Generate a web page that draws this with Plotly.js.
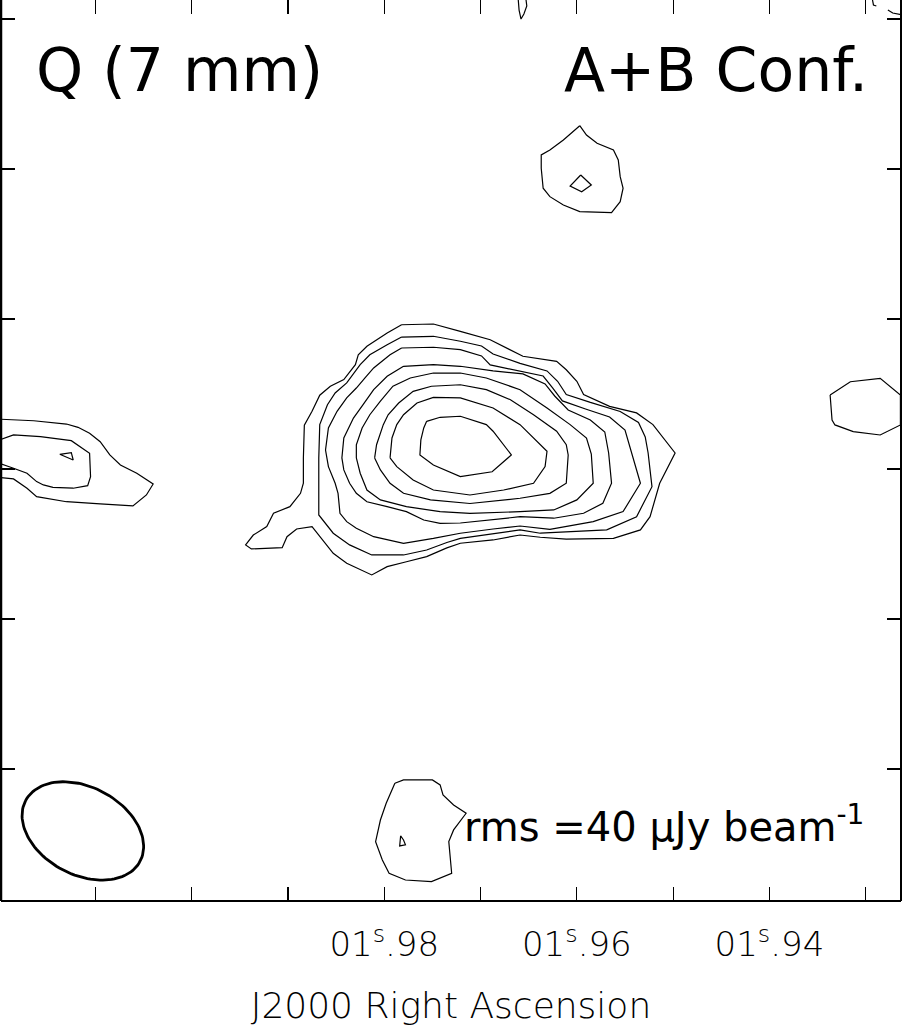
<!DOCTYPE html>
<html>
<head>
<meta charset="utf-8">
<script src="https://cdn.plot.ly/plotly-3.0.1.min.js"></script>
<style>
  html, body { margin: 0; padding: 0; background: #fff; }
  #map { width: 903px; height: 1026px; }
</style>
</head>
<body>
<div id="map"></div>
<script>
// x: RA seconds past 01s.9, in ms of time (80 = 01s.98); y: Dec offset in mas
var raLabelVals = [80, 60, 40];
var raLabelText = ['01<sup>s</sup>.98', '01<sup>s</sup>.96', '01<sup>s</sup>.94'];
var raTickVals = [110, 100, 90, 80, 70, 60, 50, 40, 30];
var decTickVals = [0, 100, 200, 300, 400, 500];

// main source, contours from outermost (1) to peak (8)
var c1x = [78.2,74.9,72.1,69.0,65.6,62.1,61.1,60.0,59.3,56.6,53.8,52.1,49.8,51.4,52.4,53.4,56.2,61.1,63.8,65.9,68.7,72.1,73.5,75.6,77.7,79.7,81.3,83.9,85.3,86.7,87.5,89.1,90.1,90.6,93.8,94.4,93.6,92.2,91.5,89.8,88.7,88.4,88.4,88.3,87.5,86.7,85.6,84.2,83.0,82.7,81.8,79.7,78.2];
var c1y = [296.2,296.7,291.8,286.2,275.2,271.8,266.2,258.5,249.6,241.8,237.4,229.6,210.7,190.5,168.2,159.4,153.8,153.2,154.5,156.0,152.7,150.5,147.4,141.6,138.2,134.9,129.4,137.2,143.8,154.9,161.6,160.0,154.9,147.6,146.7,149.4,156.0,161.6,170.5,174.9,183.8,190.5,207.4,229.2,238.5,249.2,255.2,259.6,269.6,276.2,281.8,290.7,296.2];
var c2x = [78.2,74.9,72.1,69.9,68.7,65.9,63.1,62.0,61.1,58.6,55.5,53.6,52.9,52.6,52.2,53.8,56.9,61.1,63.8,65.9,68.7,72.1,73.5,75.6,78.0,81.3,83.6,85.3,86.8,86.8,86.8,86.7,85.9,85.1,83.9,82.5,81.5,79.7,78.2];
var c2y = [288.0,288.5,285.2,282.0,276.7,270.4,265.4,258.5,249.7,244.4,238.4,231.0,221.4,210.7,188.2,168.2,159.4,158.2,157.2,159.4,156.7,153.8,151.0,146.0,142.7,142.7,149.4,157.2,169.4,190.5,207.4,229.6,242.9,250.7,257.4,269.6,276.2,282.9,288.0];
var c3x = [78.2,74.9,72.1,69.9,69.0,66.4,63.5,62.5,61.5,59.1,56.6,55.0,54.3,53.4,55.2,58.3,62.8,65.9,68.7,72.1,74.9,78.0,81.1,82.9,83.9,84.6,84.8,85.1,85.8,86.1,85.8,84.9,83.9,82.9,82.0,81.1,79.4,78.2];
var c3y = [280.7,281.2,279.6,275.4,269.4,266.0,262.0,254.0,245.4,240.0,234.7,226.0,210.7,190.5,171.6,164.9,159.8,162.0,160.0,157.2,153.8,150.5,154.9,160.5,164.9,170.5,183.8,190.5,201.6,212.7,227.4,238.5,247.4,254.0,260.7,267.4,276.2,280.7];
var c4x = [78.0,74.9,72.1,68.7,65.6,63.3,62.3,60.9,58.6,57.1,56.7,56.4,57.3,59.3,62.4,65.9,72.1,74.2,75.9,77.7,79.7,81.8,82.9,83.6,84.2,84.4,84.2,83.2,82.2,81.1,79.7,78.0];
var c4y = [268.5,269.6,268.5,265.4,263.4,256.7,248.7,239.4,232.7,224.7,210.7,190.5,177.2,170.5,167.2,168.2,164.0,163.8,166.0,171.6,174.9,178.2,183.8,190.5,199.4,207.4,220.7,234.0,242.9,252.9,261.8,268.5];
var c5x = [82.9,82.9,82.3,81.5,80.4,79.1,77.3,74.9,72.1,69.4,65.9,63.1,60.7,59.0,58.5,58.3,60.0,62.4,65.9,71.1,74.2,77.7,80.4,81.8,82.5,82.9];
var c5y = [207.4,216.2,227.4,236.2,245.2,255.2,260.7,264.0,264.0,260.7,252.9,240.7,229.6,220.7,210.0,190.5,179.4,172.7,171.6,170.4,171.6,174.9,179.4,186.0,197.2,207.4];
var c6x = [81.0,80.8,80.1,79.6,78.5,77.0,75.1,72.1,69.4,66.9,64.5,62.1,61.1,60.9,61.1,62.8,65.9,71.1,75.2,78.0,79.4,80.4,81.0];
var c6y = [207.4,216.2,229.6,236.2,244.0,251.8,255.2,256.2,252.9,246.2,236.2,225.2,216.2,209.4,190.5,183.8,180.5,177.0,179.4,183.8,190.5,199.4,207.4];
var c7x = [79.4,79.2,78.7,78.0,76.6,74.9,72.1,68.7,65.9,63.1,63.3,64.5,67.6,71.1,74.9,77.0,78.7,79.4];
var c7y = [207.4,220.7,229.6,236.2,244.0,247.8,247.4,240.7,229.6,211.8,201.6,190.5,186.0,182.7,186.0,192.7,201.6,207.4];
var c8x = [75.6,74.2,72.1,69.4,68.7,67.6,66.8,68.8,72.1,74.9,76.3,76.2,75.9,75.6];
var c8y = [231.8,234.5,235.2,229.6,225.2,216.2,209.4,198.2,195.0,202.7,209.4,219.4,227.4,231.8];

// weaker features around the map
var leftOuterX = [120.5,116.4,113.0,111.8,110.6,109.5,108.5,107.4,105.7,104.0,104.7,106.1,109.5,113.0,116.1,117.1,118.5,120.5];
var leftOuterY = [233.4,232.2,230.0,227.8,223.8,218.2,209.4,202.7,197.2,190.0,182.7,175.4,176.7,178.2,181.6,187.2,193.4,194.7];
var leftInnerX = [120.5,118.5,115.7,112.5,110.6,110.5,110.8,112.3,114.4,115.4,116.1,117.1,118.5,120.5];
var leftInnerY = [218.2,222.7,221.6,218.9,210.5,194.9,188.9,187.2,187.8,189.4,191.6,197.2,200.5,204.9];
var leftPeakX = [113.7,112.5,112.3,113.7];
var leftPeakY = [209.8,210.9,206.0,209.8];
var northOuterX = [59.7,59.0,57.9,56.2,55.7,55.5,55.2,55.5,56.4,59.7,61.4,62.8,63.5,63.7,63.7,62.8,61.4,59.7];
var northOuterY = [428.9,422.7,417.2,412.7,406.0,394.9,387.2,378.2,370.9,371.6,376.0,381.6,387.2,400.5,409.4,412.7,419.4,428.9];
var northInnerX = [59.6,58.5,59.5,60.7,59.6];
var northInnerY = [396.0,389.4,384.9,388.7,396.0];
var eastX = [33.7,31.6,28.5,26.4,26.4,28.5,31.3,33.2,33.5,33.6,33.7];
var eastY = [249.4,258.2,260.5,249.4,229.4,222.7,224.9,229.4,232.7,241.6,249.4];
var southOuterX = [78.9,78.0,75.0,74.2,73.9,72.8,71.5,72.8,73.3,73.2,73.0,75.1,77.8,79.5,80.2,80.9,80.4,79.8,78.9];
var southOuterY = [-9.5,-7.3,-7.3,-10.6,-17.3,-24.0,-29.5,-40.6,-48.4,-56.2,-69.5,-75.1,-74.0,-69.5,-60.6,-48.4,-34.0,-22.8,-9.5];
var southInnerX = [78.3,78.0,77.8,78.4,78.3];
var southInnerY = [-44.6,-47.3,-50.6,-51.3,-44.6];
var edgeX = [66.1,65.3,65.2,65.5,65.8,66.0,66.1, null, 29.3,29.2,28.9, null, 27.7,27.2,26.2];
var edgeY = [514.0,514.0,508.7,503.4,500.0,506.0,514.0, null, 512.7,509.4,508.7, null, 506.0,504.0,502.7];

// restoring beam (mas, deg) and its position
var beamCentre = [111.3, -41.3];
var beamMaj = 86.4, beamMin = 58.4, beamPA = 62;
var COSDEC = 0.428;

var contours = [
  [c1x, c1y], [c2x, c2y], [c3x, c3y], [c4x, c4y], [c5x, c5y], [c6x, c6y], [c7x, c7y], [c8x, c8y],
  [leftOuterX, leftOuterY], [leftInnerX, leftInnerY], [leftPeakX, leftPeakY],
  [northOuterX, northOuterY], [northInnerX, northInnerY], [eastX, eastY],
  [southOuterX, southOuterY], [southInnerX, southInnerY], [edgeX, edgeY]
];

var data = contours.map(function (c) {
  return {
    x: c[0], y: c[1], mode: 'lines', type: 'scatter',
    line: {color: 'black', width: 1.2},
    hoverinfo: 'skip', showlegend: false
  };
});

// beam ellipse
var bx = [], by = [];
var pa = beamPA * Math.PI / 180, a = beamMaj / 2, b = beamMin / 2;
for (var i = 0; i <= 120; i++) {
  var t = 2 * Math.PI * i / 120;
  var east = a * Math.cos(t) * Math.sin(pa) + b * Math.sin(t) * Math.cos(pa);
  var north = a * Math.cos(t) * Math.cos(pa) - b * Math.sin(t) * Math.sin(pa);
  bx.push(beamCentre[0] + east / (15 * COSDEC));
  by.push(beamCentre[1] + north);
}
data.push({x: bx, y: by, mode: 'lines', type: 'scatter',
  line: {color: 'black', width: 2.8}, hoverinfo: 'skip', showlegend: false});

var font = 'DejaVu Sans, sans-serif';

var layout = {
  width: 903,
  height: 1026,
  margin: {l: 1, r: 2, t: 0, b: 125, pad: 0},
  paper_bgcolor: 'white',
  plot_bgcolor: 'white',
  showlegend: false,
  xaxis: {
    range: [119.8, 26.34],
    tickmode: 'array',
    tickvals: raLabelVals,
    ticktext: raLabelText,
    ticks: 'inside',
    ticklen: 14,
    tickwidth: 1.2,
    tickcolor: 'black',
    minor: {
      tickmode: 'array',
      tickvals: raTickVals,
      ticks: 'inside',
      ticklen: 14,
      tickwidth: 1.2,
      tickcolor: 'black',
      showgrid: false
    },
    mirror: 'ticks',
    showline: false,
    showgrid: false,
    zeroline: false,
    ticklabelstandoff: 20,
    tickfont: {family: font, size: 34, color: 'black', weight: 200},
    title: {text: 'J2000 Right Ascension', standoff: 30,
      font: {family: font, size: 36, color: 'black', weight: 200}}
  },
  yaxis: {
    range: [-88.0, 512.7],
    tickmode: 'array',
    tickvals: decTickVals,
    ticks: 'inside',
    ticklen: 14,
    tickwidth: 1.2,
    tickcolor: 'black',
    mirror: 'ticks',
    showline: false,
    showgrid: false,
    zeroline: false,
    showticklabels: false
  },
  shapes: [
    {type: 'line', xref: 'paper', yref: 'paper', x0: 0, x1: 0, y0: 0, y1: 1, line: {color: 'black', width: 2.5}},
    {type: 'line', xref: 'paper', yref: 'paper', x0: 0, x1: 1, y0: 0, y1: 0, line: {color: 'black', width: 2}},
    {type: 'line', xref: 'paper', yref: 'paper', x0: 1, x1: 1, y0: 0, y1: 1, line: {color: 'black', width: 2}}
  ],
  annotations: [
    {text: 'Q (7 mm)', xref: 'paper', yref: 'paper', x: 0.037, y: 0.922,
      xanchor: 'left', yanchor: 'middle', showarrow: false,
      font: {family: font, size: 60, color: 'black'}},
    {text: 'A+B Conf.', xref: 'paper', yref: 'paper', x: 0.966, y: 0.922,
      xanchor: 'right', yanchor: 'middle', showarrow: false,
      font: {family: font, size: 60, color: 'black'}},
    {text: 'rms =40 μJy beam<sup>-1</sup>', xref: 'paper', yref: 'paper', x: 0.961, y: 0.085,
      xanchor: 'right', yanchor: 'middle', showarrow: false,
      font: {family: font, size: 40, color: 'black'}}
  ]
};

Plotly.newPlot('map', data, layout, {staticPlot: true, displayModeBar: false});
</script>
</body>
</html>
